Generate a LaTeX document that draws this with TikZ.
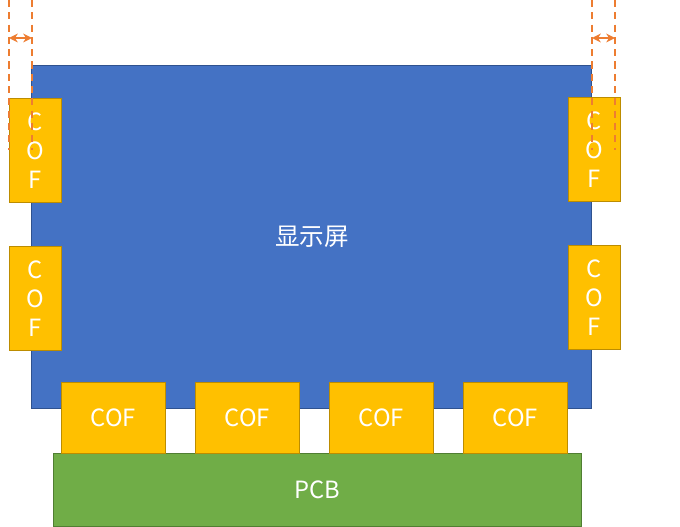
\documentclass[tikz,border=0pt]{standalone}
\usepackage{fontspec}
\setmainfont{Noto Sans CJK SC}
\usetikzlibrary{positioning, arrows.meta}
\definecolor{screenblue}{RGB}{68,114,196}
\definecolor{screenedge}{RGB}{47,82,143}
\definecolor{cofgold}{RGB}{255,192,0}
\definecolor{cofedge}{RGB}{188,140,0}
\definecolor{pcbgreen}{RGB}{112,173,71}
\definecolor{pcbedge}{RGB}{80,126,50}
\definecolor{gaporange}{RGB}{237,125,49}

\begin{document}
\begin{tikzpicture}[x=0.02cm, y=-0.02cm, >=Stealth,
    cofbox/.style={fill=cofgold, draw=cofedge, line width=0.6pt, text=white, font=\fontsize{13.5}{15}\selectfont, inner sep=0pt},
    gapline/.style={gaporange, dash pattern=on 4pt off 3pt, line width=1pt},
    gaparrow/.style={gaporange, line width=1pt, {Stealth[length=5pt, width=5pt]}-{Stealth[length=5pt, width=5pt]}}]
    \useasboundingbox (0,0) rectangle (680,527);

    % Display screen
    \node[fill=screenblue, draw=screenedge, line width=0.6pt, minimum width=11.2cm, minimum height=6.86cm,
          anchor=north west] (screen) at (31,65) {};
    \node[text=white, font=\fontsize{14}{16}\selectfont] (label) at (312,237) {显示屏};

    % PCB
    \node[fill=pcbgreen, draw=pcbedge, line width=0.6pt, minimum width=10.56cm, minimum height=1.46cm,
          anchor=north west, text=white, font=\fontsize{13.5}{15}\selectfont] (pcb) at (53,453) {PCB};

    % Bottom COFs
    \foreach \i/\x in {1/61, 2/195, 3/329, 4/463}
        \node[cofbox, minimum width=2.08cm, minimum height=1.42cm, anchor=north west] (cofb\i) at (\x,382) {COF};

    % Side COFs (vertical lettering)
    \foreach \n/\x/\y in {l1/9/98, l2/9/246, r1/568/97, r2/568/245}
        \node[cofbox, minimum width=1.04cm, minimum height=2.08cm, anchor=north west, align=center] (cof\n) at (\x,\y)
            {C\\[1.5pt]O\\[1.5pt]F};

    % Overhang markers
    \coordinate (ltopa) at (9,0);   \coordinate (lbota) at (9,150);
    \coordinate (ltopb) at (32,0);  \coordinate (lbotb) at (32,150);
    \coordinate (rtopa) at (592,0); \coordinate (rbota) at (592,150);
    \coordinate (rtopb) at (615,0); \coordinate (rbotb) at (615,150);
    \draw[gapline] (ltopa) -- (lbota);
    \draw[gapline] (ltopb) -- (lbotb);
    \draw[gapline] (rtopa) -- (rbota);
    \draw[gapline] (rtopb) -- (rbotb);
    \coordinate (larrowa) at (9,38);   \coordinate (larrowb) at (32,38);
    \coordinate (rarrowa) at (592,38); \coordinate (rarrowb) at (615,38);
    \draw[gaparrow] (larrowa) -- (larrowb);
    \draw[gaparrow] (rarrowa) -- (rarrowb);
\end{tikzpicture}
\end{document}
